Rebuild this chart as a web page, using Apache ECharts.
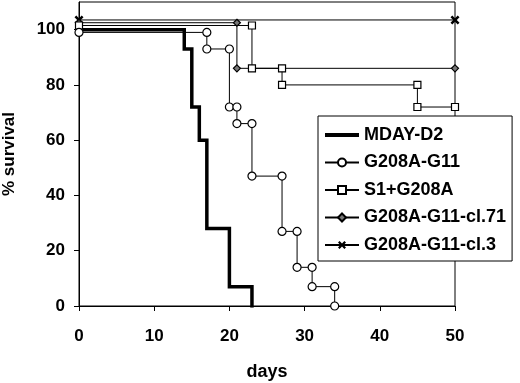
<!DOCTYPE html>
<html>
<head>
<meta charset="utf-8">
<script src="https://cdn.jsdelivr.net/npm/echarts@6/dist/echarts.min.js"></script>
<style>
  html, body { margin: 0; padding: 0; background: #fff; }
  #chart { width: 520px; height: 383px; }
</style>
</head>
<body>
<div id="chart"></div>
<script>
// step corners (days, % survival)
const mdayDays = [0, 14, 14, 15, 15, 16, 16, 17, 17, 20, 20, 23, 23];
const mdaySurv = [100, 100, 93, 93, 72, 72, 60, 60, 28, 28, 7, 7, 0];

const g11Days = [0, 17, 17, 20, 20, 21, 21, 23, 23, 27, 27, 29, 29, 31, 31, 34, 34];
const g11Surv = [99, 99, 93, 93, 72, 72, 66, 66, 47, 47, 27, 27, 14, 14, 7, 7, 0];

const s1Days = [0, 23, 23, 27, 27, 45, 45, 50];
const s1Surv = [101.5, 101.5, 86, 86, 80, 80, 72, 72];

const cl71Days = [0, 21, 21, 50];
const cl71Surv = [102.5, 102.5, 86, 86];

const cl3Days = [0, 50];
const cl3Surv = [103.5, 103.5];

const xTicks = [0, 10, 20, 30, 40, 50];
const yTicks = [0, 20, 40, 60, 80, 100];

const font = "Liberation Sans";
const crossPath = "path://M0,2L2,0L5,3L8,0L10,2L7,5L10,8L8,10L5,7L2,10L0,8L3,5Z";
const thickLinePath = "path://M0,0L34,0L34,4L0,4Z";

function pairs(xs, ys) {
  return xs.map((x, i) => [x, ys[i]]);
}

const chart = echarts.init(document.getElementById("chart"), null, { renderer: "canvas" });

const option = {
  animation: false,
  backgroundColor: "#fff",
  grid: {
    left: 79,
    right: 65,
    top: 2,
    bottom: 77,
    outerBoundsMode: "none",
    containLabel: false,
    show: true,
    borderColor: "#000",
    borderWidth: 1,
    backgroundColor: "transparent"
  },
  xAxis: {
    type: "value",
    min: 0,
    max: 50,
    interval: 10,
    name: "days",
    nameLocation: "middle",
    nameGap: 57,
    nameTextStyle: { fontFamily: font, fontWeight: "bold", fontSize: 18, color: "#000" },
    axisLine: { lineStyle: { color: "#000", width: 1 } },
    axisTick: { inside: false, length: 5, lineStyle: { color: "#000" }, customValues: xTicks },
    axisLabel: {
      margin: 22, fontFamily: font, fontWeight: "bold", fontSize: 17, color: "#000",
      customValues: xTicks
    },
    splitLine: { show: false }
  },
  yAxis: {
    type: "value",
    min: 0,
    max: 110,
    interval: 20,
    name: "% survival",
    nameLocation: "middle",
    nameRotate: 90,
    nameGap: 61,
    nameTextStyle: { fontFamily: font, fontWeight: "bold", fontSize: 17, color: "#000" },
    axisLine: { show: true, lineStyle: { color: "#000", width: 1 } },
    axisTick: { show: true, inside: false, length: 5, lineStyle: { color: "#000" }, customValues: yTicks },
    axisLabel: {
      margin: 14, fontFamily: font, fontWeight: "bold", fontSize: 17, color: "#000",
      customValues: yTicks
    },
    splitLine: { show: false }
  },
  legend: {
    orient: "vertical",
    left: 318,
    top: 116,
    width: 200,
    height: 139,
    padding: [10, 6, 7, 6],
    itemGap: 9.5,
    itemWidth: 34,
    itemHeight: 10,
    borderColor: "#000",
    borderWidth: 1,
    backgroundColor: "#fff",
    textStyle: { fontFamily: font, fontWeight: "bold", fontSize: 18, color: "#000" },
    data: [
      { name: "MDAY-D2", icon: thickLinePath },
      "G208A-G11",
      "S1+G208A",
      "G208A-G11-cl.71",
      "G208A-G11-cl.3"
    ]
  },
  series: [
    {
      name: "G208A-G11-cl.3",
      type: "line",
      data: pairs(cl3Days, cl3Surv),
      symbol: crossPath,
      symbolSize: 9,
      showAllSymbol: true,
      lineStyle: { color: "#000", width: 1 },
      itemStyle: { color: "#000", borderWidth: 0 }
    },
    {
      name: "G208A-G11-cl.71",
      type: "line",
      data: pairs(cl71Days, cl71Surv),
      symbol: "diamond",
      symbolSize: 7,
      showAllSymbol: true,
      lineStyle: { color: "#000", width: 1 },
      itemStyle: { color: "#777", borderColor: "#000", borderWidth: 1.2 }
    },
    {
      name: "S1+G208A",
      type: "line",
      data: pairs(s1Days, s1Surv),
      symbol: "rect",
      symbolSize: 7,
      showAllSymbol: true,
      lineStyle: { color: "#000", width: 1 },
      itemStyle: { color: "#fff", borderColor: "#000", borderWidth: 1.2 }
    },
    {
      name: "G208A-G11",
      type: "line",
      data: pairs(g11Days, g11Surv),
      symbol: "circle",
      symbolSize: 8,
      showAllSymbol: true,
      lineStyle: { color: "#000", width: 1 },
      itemStyle: { color: "#fff", borderColor: "#000", borderWidth: 1.2 }
    },
    {
      name: "MDAY-D2",
      type: "line",
      data: pairs(mdayDays, mdaySurv),
      symbol: "none",
      lineStyle: { color: "#000", width: 3.5, cap: "square", join: "miter" },
      itemStyle: { color: "#000" },
      z: 1
    }
  ]
};

chart.setOption(option);
</script>
</body>
</html>
